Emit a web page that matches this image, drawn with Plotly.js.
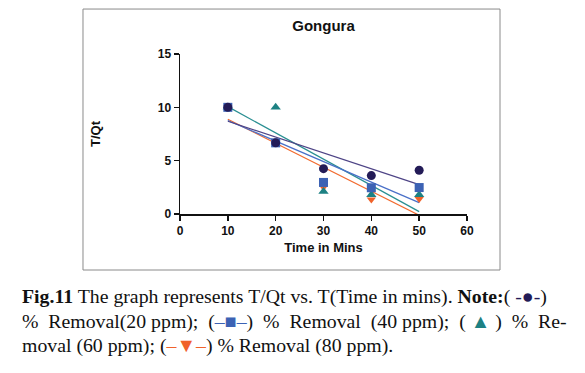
<!DOCTYPE html>
<html>
<head>
<meta charset="utf-8">
<script src="https://cdn.plot.ly/plotly-3.0.1.min.js"></script>
<style>html,body{margin:0;padding:0;background:#fff;}#chart{width:585px;height:373px;}</style>
</head>
<body>
<div id="chart"></div>
<script>
// Data
var timeMins = [10, 20, 30, 40, 50];
var removal20 = [10, 6.67, 4.25, 3.6, 4.1];
var removal40 = [10, 6.67, 2.96, 2.46, 2.48];
var removal60 = [10, 10, 2.12, 1.8, 1.8];
var removal80 = [10, 6.67, 2.5, 1.35, 1.4];
var seriesNames = ['% Removal (20 ppm)', '% Removal (40 ppm)', '% Removal (60 ppm)', '% Removal (80 ppm)'];
var xTicks = [0, 10, 20, 30, 40, 50, 60];
var yTicks = [0, 5, 10, 15];

function fit(x, y) {
  var n = x.length, mx = 0, my = 0;
  for (var i = 0; i < n; i++) { mx += x[i]; my += y[i]; }
  mx /= n; my /= n;
  var sxy = 0, sxx = 0;
  for (var j = 0; j < n; j++) { sxy += (x[j]-mx)*(y[j]-my); sxx += (x[j]-mx)*(x[j]-mx); }
  var b = sxy / sxx, a = my - b*mx;
  var xs = [x[0], x[n-1]];
  return {x: xs, y: xs.map(function(v){ return a + b*v; })};
}

var styles = [
  {data: removal80, mcolor: '#f0622a', lcolor: '#f26a2e', symbol: 'triangle-down', size: 8},
  {data: removal60, mcolor: '#1d8183', lcolor: '#2a8f92', symbol: 'triangle-up', size: 9},
  {data: removal40, mcolor: '#3c62b4', lcolor: '#4a70c8', symbol: 'square', size: 9},
  {data: removal20, mcolor: '#231b57', lcolor: '#4e4486', symbol: 'circle', size: 9}
];
var nameOrder = [3, 2, 1, 0];
var traces = [];
styles.forEach(function(s, k) {
  var f = fit(timeMins, s.data);
  traces.push({x: f.x, y: f.y, mode: 'lines', line: {color: s.lcolor, width: 1.2}, showlegend: false, hoverinfo: 'skip'});
});
styles.forEach(function(s, k) {
  traces.push({x: timeMins, y: s.data, mode: 'markers', name: seriesNames[nameOrder[k]],
    marker: {color: s.mcolor, symbol: s.symbol, size: s.size, line: {width: 0}}, showlegend: false, cliponaxis: false});
});

var axisFont = {family: 'Liberation Sans, Arial, sans-serif', size: 12, color: '#111'};
var cap = {family: 'Liberation Serif, Times New Roman, serif', size: 19.8, color: '#111'};
var sp = '&nbsp;';
var layout = {
  width: 585, height: 373,
  margin: {l: 180, r: 118, t: 54, b: 159},
  paper_bgcolor: '#fff', plot_bgcolor: '#fff',
  showlegend: false,
  title: {text: '<b>Gongura</b>', x: 0.5, xref: 'paper', xanchor: 'center', y: 1, yref: 'container', yanchor: 'top', pad: {t: 20},
          font: {family: 'Liberation Sans, Arial, sans-serif', size: 15, color: '#111'}},
  xaxis: {range: [0, 60], tickvals: xTicks, ticktext: xTicks.map(function(v){return '<b>'+v+'</b>';}),
    showline: true, linecolor: '#111', linewidth: 1.5, ticks: 'outside', ticklen: 5, tickwidth: 1.5, tickcolor: '#111',
    showgrid: false, zeroline: false, tickfont: axisFont,
    title: {text: '<b>Time in Mins</b>', font: {family: 'Liberation Sans, Arial, sans-serif', size: 13, color: '#111'}, standoff: 6}},
  yaxis: {range: [0, 15], tickvals: yTicks, ticktext: yTicks.map(function(v){return '<b>'+v+'</b>';}),
    showline: true, linecolor: '#111', linewidth: 1.5, ticks: 'outside', ticklen: 5, tickwidth: 1.5, tickcolor: '#111',
    showgrid: false, zeroline: false, tickfont: axisFont,
    title: {text: '<b>T/Qt</b>', font: {family: 'Liberation Sans, Arial, sans-serif', size: 13, color: '#111'}, standoff: 54}},
  shapes: [{type: 'rect', xref: 'paper', yref: 'paper', x0: -0.338, x1: 1.115, y0: -0.35, y1: 1.281,
    line: {color: '#8a8a8a', width: 1}}],
  annotations: [
    {xref: 'paper', yref: 'paper', x: -0.557, y: -0.5125, xanchor: 'left', yanchor: 'middle', showarrow: false, font: cap,
     text: '<b>Fig.11</b> The graph represents T/Qt vs. T(Time in mins). <b>Note:</b>( <span style="color:#231b57">-●-</span>)'},
    {xref: 'paper', yref: 'paper', x: -0.557, y: -0.669, xanchor: 'left', yanchor: 'middle', showarrow: false, font: cap,
     text: '%' + sp + sp + 'Removal(20' + sp + 'ppm);' + sp + sp + '(<span style="color:#3c62b4">–■–</span>)' + sp + sp + '%' + sp + sp + 'Removal' + sp + sp + '(40' + sp + 'ppm);' + sp + sp + '(' + sp + '<span style="color:#1d8183">▲</span>' + sp + ')' + sp + sp + '%' + sp + sp + 'Re-'},
    {xref: 'paper', yref: 'paper', x: -0.557, y: -0.819, xanchor: 'left', yanchor: 'middle', showarrow: false, font: cap,
     text: 'moval (60 ppm); (<span style="color:#f0622a">–▼–</span>) % Removal (80 ppm).'}
  ]
};
Plotly.newPlot('chart', traces, layout, {staticPlot: true, displayModeBar: false});
</script>
</body>
</html>
